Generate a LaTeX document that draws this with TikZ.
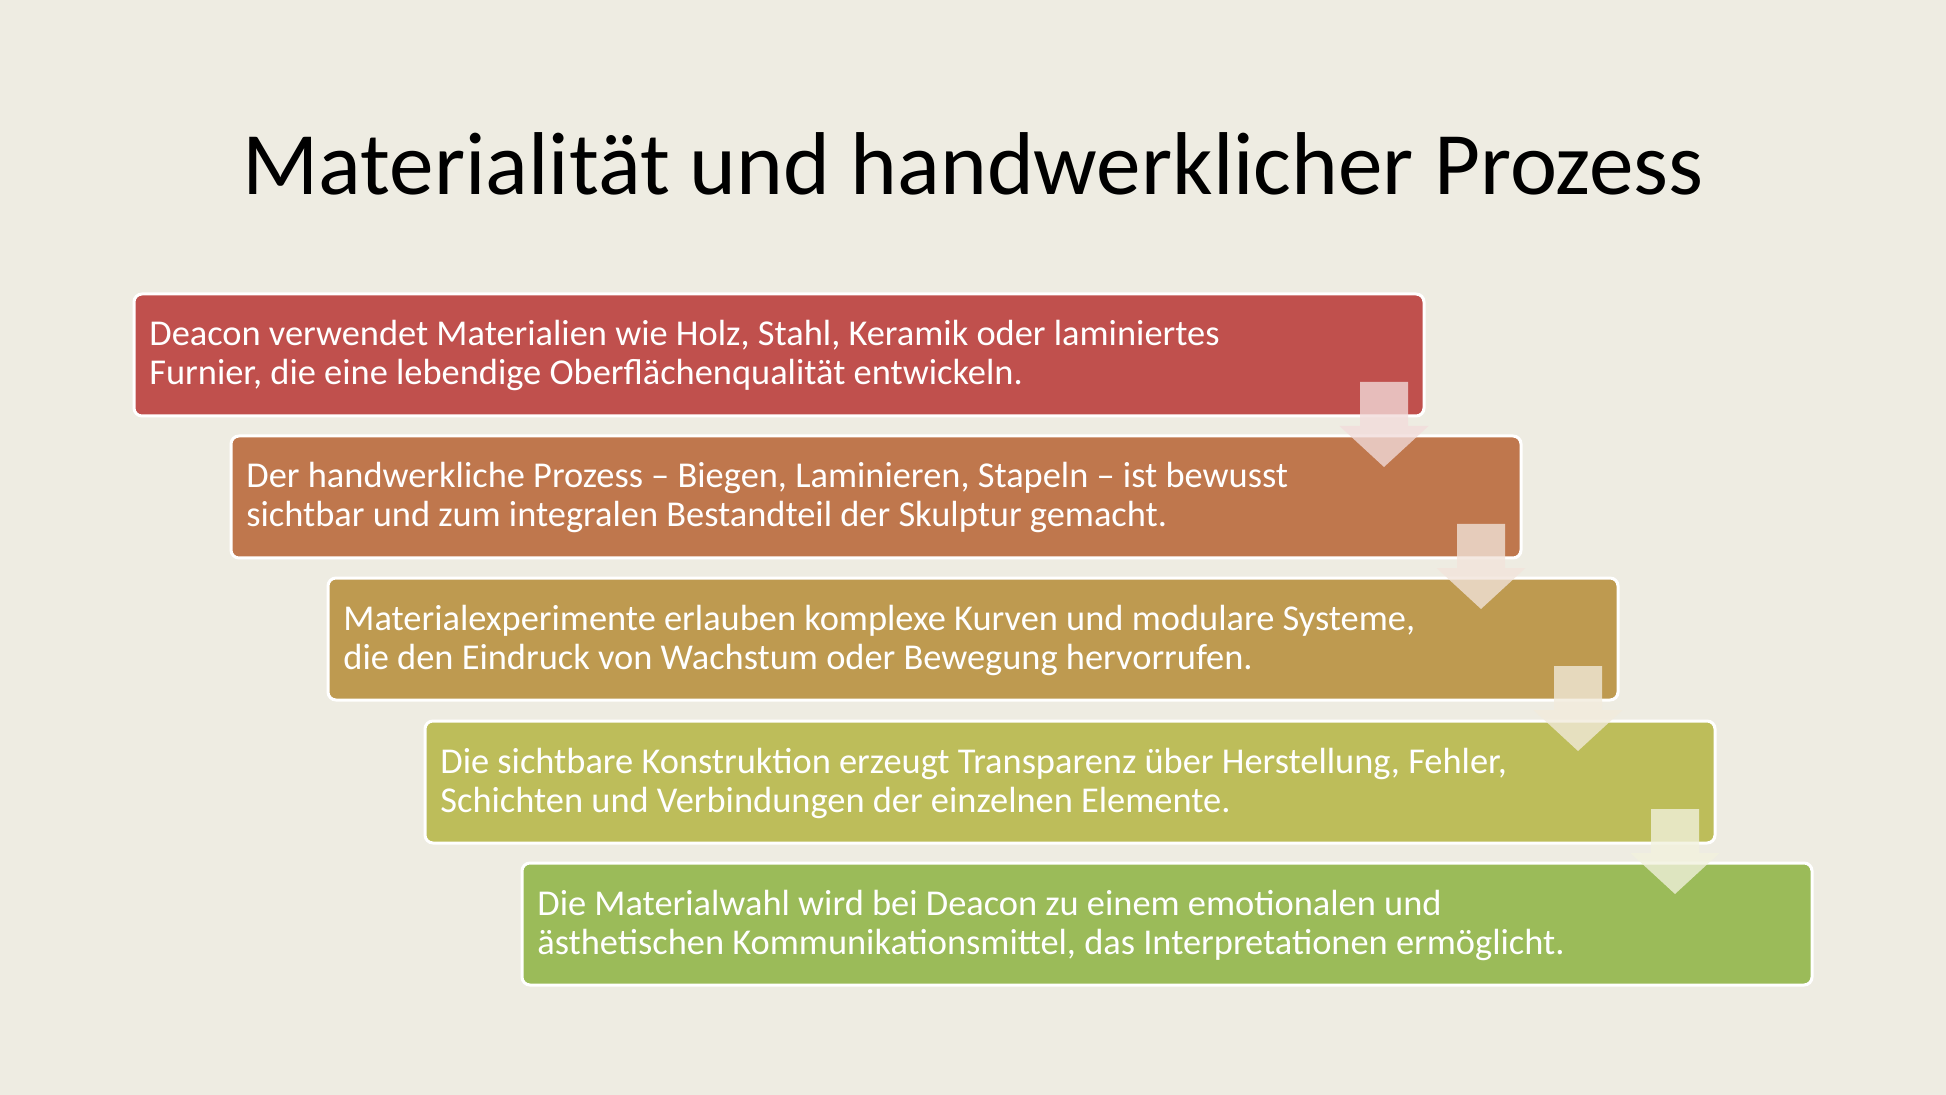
\documentclass[tikz,border=0pt]{standalone}
\usepackage{fontspec}
\setmainfont{Carlito}
\usetikzlibrary{positioning}
\definecolor{bgBeige}{RGB}{238,236,226}
\definecolor{cRed}{RGB}{192,80,77}
\definecolor{cOrange}{RGB}{191,119,77}
\definecolor{cOchre}{RGB}{190,154,80}
\definecolor{cOlive}{RGB}{189,189,90}
\definecolor{cGreen}{RGB}{155,187,89}

\begin{document}
\begin{tikzpicture}[
        x=0.5pt, y=-0.5pt,
        stepbox/.style={rectangle, draw=white, line width=1.5pt, rounded corners=4pt, anchor=north west, minimum width=645pt, minimum height=61pt, inner sep=0pt, outer sep=0pt},
        steptext/.style={anchor=base west, text=white, align=left, inner sep=0pt, font=\fontsize{18.2pt}{19.5pt}\selectfont},
        stepdown/.pic={\fill[pic actions] (-64,-34) -- (-16,-34) -- (-16,10) -- (4.5,10) -- (-40,51) -- (-84.5,10) -- (-64,10) -- cycle;},
        flow/.style={fill opacity=0.78}
    ]

    % Hintergrund
    \fill[bgBeige] (0,0) rectangle (1946,1095);
    \useasboundingbox (0,0) rectangle (1946,1095);

    % Titel
    \node (title) [anchor=base, font=\fontsize{44.6pt}{52pt}\selectfont] at (973,195) {Materialität und handwerklicher Prozess};

    % Stufen
    \node (b1) [stepbox, fill=cRed] at (134,294) {};
    \node (b2) [stepbox, fill=cOrange] at (231,436) {};
    \node (b3) [stepbox, fill=cOchre] at (328,578) {};
    \node (b4) [stepbox, fill=cOlive] at (425,721) {};
    \node (b5) [stepbox, fill=cGreen] at (522,863) {};

    % Texte (Anker = Grundlinie der letzten Zeile)
    \node (t1) [steptext] at ([shift={(15,91)}]b1.north west) {Deacon verwendet Materialien wie Holz, Stahl, Keramik oder laminiertes\\Furnier, die eine lebendige Oberflächenqualität entwickeln.};
    \node (t2) [steptext] at ([shift={(15,91)}]b2.north west) {Der handwerkliche Prozess -- Biegen, Laminieren, Stapeln -- ist bewusst\\sichtbar und zum integralen Bestandteil der Skulptur gemacht.};
    \node (t3) [steptext] at ([shift={(15,91)}]b3.north west) {Materialexperimente erlauben komplexe Kurven und modulare Systeme,\\die den Eindruck von Wachstum oder Bewegung hervorrufen.};
    \node (t4) [steptext] at ([shift={(15,91)}]b4.north west) {Die sichtbare Konstruktion erzeugt Transparenz über Herstellung, Fehler,\\Schichten und Verbindungen der einzelnen Elemente.};
    \node (t5) [steptext] at ([shift={(15,91)}]b5.north west) {Die Materialwahl wird bei Deacon zu einem emotionalen und\\ästhetischen Kommunikationsmittel, das Interpretationen ermöglicht.};

    % Pfeile
    \pic [flow, fill=cRed!20!white] at (b1.south east) {stepdown};
    \pic [flow, fill=cOrange!20!white] at (b2.south east) {stepdown};
    \pic [flow, fill=cOchre!20!white] at (b3.south east) {stepdown};
    \pic [flow, fill=cOlive!20!white] at (b4.south east) {stepdown};

\end{tikzpicture}
\end{document}
